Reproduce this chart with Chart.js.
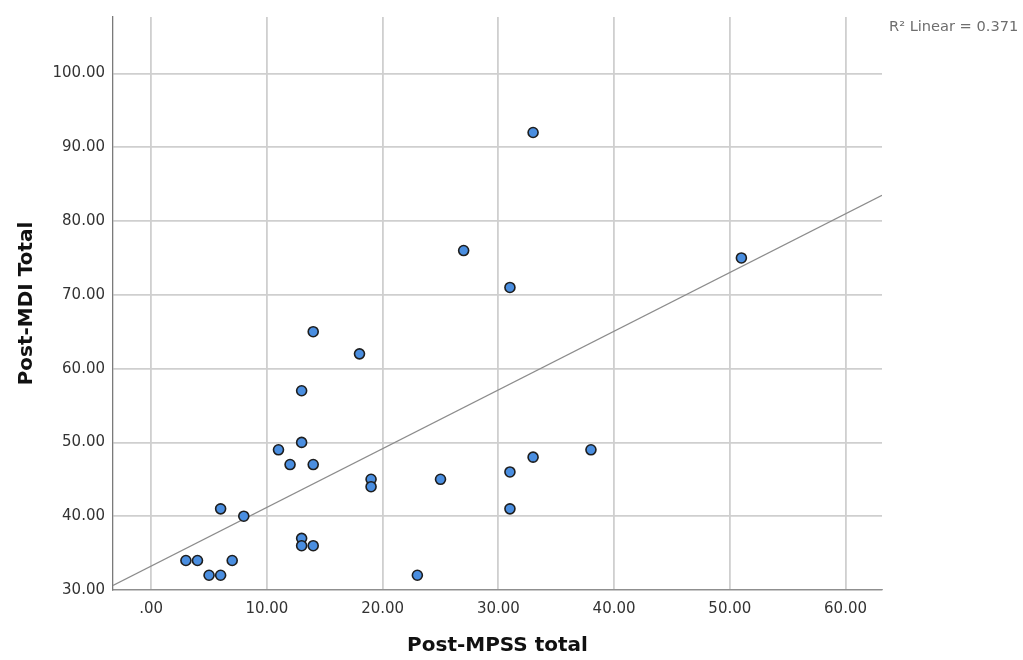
<!DOCTYPE html>
<html>
<head>
<meta charset="utf-8">
<script src="https://cdn.jsdelivr.net/npm/chart.js@4/dist/chart.umd.min.js"></script>
<style>
  html, body { margin: 0; padding: 0; background: #ffffff; }
  #wrap { width: 1023px; height: 660px; }
</style>
</head>
<body>
<div id="wrap"><canvas id="c" width="1023" height="660"></canvas></div>
<script>
// ---- data ----
const mpssTotal = [33, 27, 31, 51, 14, 18, 13, 11, 13, 12, 14, 19, 19, 25, 31, 33, 38, 31, 6, 8, 13, 13, 14, 3, 4, 7, 5, 6, 23];
const mdiTotal  = [92, 76, 71, 75, 65, 62, 57, 49, 50, 47, 47, 45, 44, 45, 46, 48, 49, 41, 41, 40, 37, 36, 36, 34, 34, 34, 32, 32, 32];
// fit line end points at the axis edges
const fitX = [-3.3, 63.15];
const fitY = [30.63, 83.48];
const xTicks = [0, 10, 20, 30, 40, 50, 60];
const yTicks = [30, 40, 50, 60, 70, 80, 90, 100];
const xLabel = 'Post-MPSS total';
const yLabel = 'Post-MDI Total';
const fitLabel = 'R\u00B2 Linear = 0.371';

const points = mpssTotal.map((x, i) => ({ x: x, y: mdiTotal[i] }));
const fitPoints = fitX.map((x, i) => ({ x: x, y: fitY[i] }));

const fmt = v => (v === 0 ? '.00' : Number(v).toFixed(2));

const r2Plugin = {
  id: 'r2text',
  afterDraw(chart) {
    const ctx = chart.ctx;
    ctx.save();
    ctx.font = '14.6px "DejaVu Sans"';
    ctx.fillStyle = '#6e6e6e';
    ctx.textAlign = 'left';
    ctx.textBaseline = 'middle';
    ctx.fillText(fitLabel, chart.chartArea.right + 7, 27);
    ctx.restore();
  }
};

new Chart(document.getElementById('c'), {
  type: 'scatter',
  data: {
    datasets: [
      {
        data: points,
        order: 0,
        backgroundColor: '#4a8ee0',
        borderColor: '#1e1e1e',
        borderWidth: 1.6,
        pointRadius: 5,
        pointHoverRadius: 5
      },
      {
        type: 'line',
        data: fitPoints,
        order: 1,
        borderColor: '#8c8c8c',
        borderWidth: 1.2,
        pointRadius: 0,
        fill: false,
        tension: 0
      }
    ]
  },
  options: {
    responsive: false,
    devicePixelRatio: 1,
    animation: false,
    events: [],
    layout: { padding: { left: 0, top: 15, right: 141, bottom: 0 } },
    plugins: { legend: { display: false }, tooltip: { enabled: false } },
    scales: {
      x: {
        type: 'linear',
        min: fitX[0],
        max: fitX[1],
        afterBuildTicks: s => { s.ticks = xTicks.map(v => ({ value: v })); },
        afterFit: s => { s.height = 70; },
        grid: { color: '#cfcfcf', lineWidth: 1.8, drawTicks: false },
        border: { color: '#8f8f8f', width: 1.3 },
        ticks: {
          callback: v => fmt(v),
          color: '#333333',
          padding: 10,
          maxRotation: 0,
          autoSkip: false,
          font: { family: '"DejaVu Sans"', size: 15 }
        },
        title: {
          display: true,
          text: xLabel,
          color: '#111111',
          padding: { top: 0, bottom: 2 },
          font: { family: '"DejaVu Sans"', size: 20, weight: 'bold' }
        }
      },
      y: {
        type: 'linear',
        min: 30,
        max: 107.65,
        afterBuildTicks: s => { s.ticks = yTicks.map(v => ({ value: v })); },
        afterFit: s => { s.width = 113; },
        grid: { color: '#cfcfcf', lineWidth: 1.8, drawTicks: false },
        border: { color: '#7a7a7a', width: 1.3 },
        ticks: {
          callback: v => fmt(v),
          color: '#333333',
          padding: 8,
          autoSkip: false,
          font: { family: '"DejaVu Sans"', size: 15 }
        },
        title: {
          display: true,
          text: yLabel,
          color: '#111111',
          padding: { top: 15, bottom: 0 },
          font: { family: '"DejaVu Sans"', size: 20, weight: 'bold' }
        }
      }
    }
  },
  plugins: [r2Plugin]
});
</script>
</body>
</html>
